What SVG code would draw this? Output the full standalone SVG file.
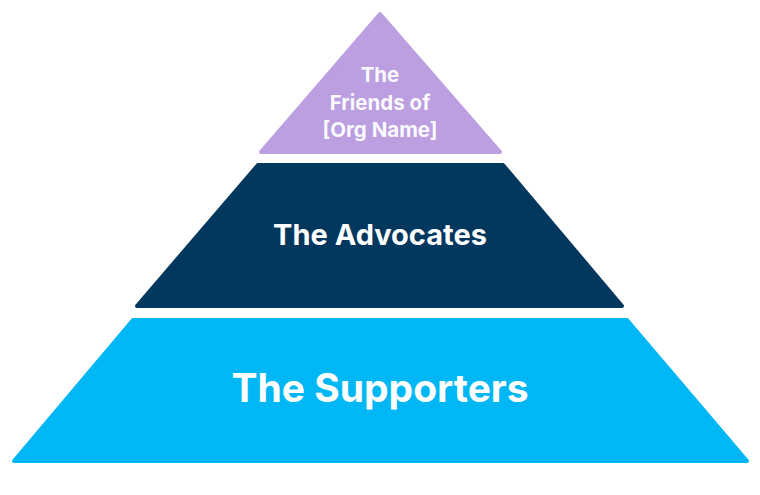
<svg xmlns="http://www.w3.org/2000/svg" width="760" height="495" viewBox="0 0 760 495">
<style>
.t{font-family:Inter,"Liberation Sans",sans-serif;font-weight:700;fill:#ffffff;text-anchor:middle}
.s{stroke-linejoin:round;stroke-width:4}
</style>
<rect width="760" height="495" fill="#ffffff"/>
<g id="top">
<polygon class="s" points="380,14 261,152 500,152" fill="#BB9FE0" stroke="#BB9FE0"/>
<text class="t" x="380" y="82" font-size="20.5" fill-opacity="0.95">The</text>
<text class="t" x="380" y="109.5" font-size="20.5" fill-opacity="0.95">Friends of</text>
<text class="t" x="380" y="137" font-size="20.5" fill-opacity="0.95">[Org Name]</text>
</g>
<g id="middle">
<polygon class="s" points="258,165 503,165 622,306 137,306" fill="#02375E" stroke="#02375E"/>
<text class="t" x="380" y="245" font-size="29">The Advocates</text>
</g>
<g id="bottom">
<polygon class="s" points="133,320 627,320 747,461 14,461" fill="#00B7F5" stroke="#00B7F5"/>
<text class="t" x="380" y="402" font-size="39">The Supporters</text>
</g>
<g id="connectors"/>
</svg>
